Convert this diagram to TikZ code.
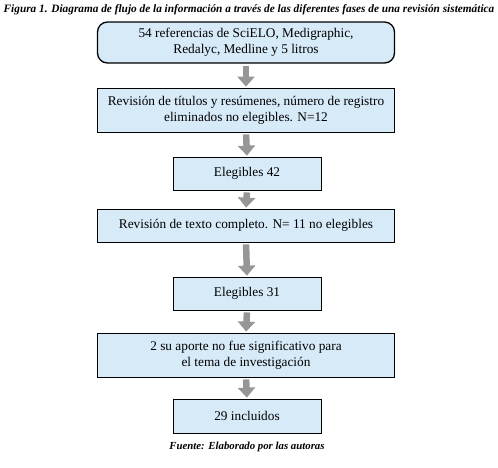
\documentclass[tikz,border=0pt]{standalone}
\usepackage{fontspec}
\setmainfont{Liberation Serif}
\usetikzlibrary{arrows.meta}
\definecolor{cajazul}{RGB}{214,234,248}
\definecolor{flechagris}{RGB}{150,150,150}
\begin{document}
\begin{tikzpicture}[x=1pt,y=-1pt,
		caja/.style={draw,fill=cajazul,line width=0.8pt,align=center,inner sep=0pt,font=\fontsize{13.3}{16}\selectfont},
		ancha/.style={caja,minimum width=297pt},
		corta/.style={caja,minimum width=148pt,minimum height=33pt},
		flecha/.style={draw=flechagris,line width=6.5pt,-{Triangle[length=10pt,width=17pt]},shorten <=2pt,shorten >=1pt},
		nota/.style={font=\fontsize{11.3}{13}\selectfont\bfseries\itshape}]
	\useasboundingbox (0,0) rectangle (498,467);
	% titulo y fuente
	\node[nota] (titulo) at (249,10) {Figura 1. Diagrama de flujo de la información a través de las diferentes fases de una revisión sistemática};
	\node[nota,font=\fontsize{10.8}{13}\selectfont\bfseries\itshape] (fuente) at (247,447) {Fuente: Elaborado por las autoras};
	% cajas
	\node[ancha,minimum height=41pt,rounded corners=10pt,line width=1.3pt] (refs) at (246,42.5) {54 referencias de SciELO, Medigraphic,\\Redalyc, Medline y 5 litros};
	\node[ancha,minimum height=44pt] (titulos) at (246,110) {Revisión de títulos y resúmenes, número de registro\\eliminados no elegibles. N=12};
	\node[corta] (eleg42) at (247,173.5) {Elegibles 42};
	\node[ancha,minimum height=33pt] (completo) at (246,225.5) {Revisión de texto completo. N= 11 no elegibles};
	\node[corta] (eleg31) at (247,293.5) {Elegibles 31};
	\node[ancha,minimum height=44pt] (aporte) at (246,355) {2 su aporte no fue significativo para\\el tema de investigación};
	\node[corta,minimum height=34pt] (incluidos) at (247,416) {29 incluidos};
	% flechas
	\foreach \a/\b in {refs/titulos,titulos/eleg42,eleg42/completo,completo/eleg31,eleg31/aporte,aporte/incluidos}
		\draw[flecha] (\a.south) -- (\b.north);
\end{tikzpicture}
\end{document}
